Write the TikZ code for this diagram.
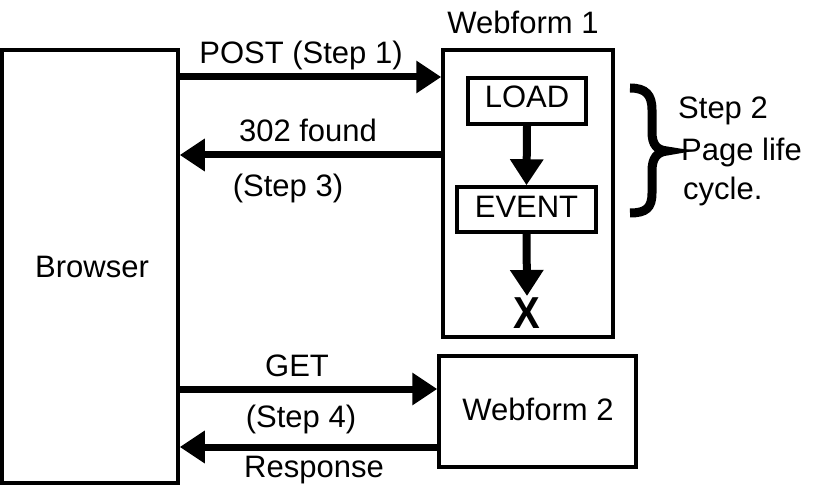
\documentclass[tikz,border=0pt]{standalone}
\usepackage{fontspec}
\usepackage{graphicx}
\setmainfont{Liberation Sans}
\usetikzlibrary{arrows.meta}
\begin{document}
\begin{tikzpicture}[x=1pt,y=-1pt,
  box/.style={draw=black,line width=3.5pt,rectangle,inner sep=0pt},
  lbl/.style={inner sep=0pt,anchor=base,font=\fontsize{31}{36}\selectfont},
  arr/.style={line width=7pt,-{Triangle[length=25pt,width=31pt]}},
  varr/.style={line width=8pt,-{Triangle[length=26pt,width=32pt]}}]
\useasboundingbox[fill=white] (0,0) rectangle (816,494);
% boxes
\node[box,minimum width=176pt,minimum height=433pt] (browser) at (90,266.5) {};
\node[box,minimum width=170pt,minimum height=287pt] (wf1) at (528,193.5) {};
\node[box,minimum width=118pt,minimum height=46pt] (load) at (527,101) {};
\node[box,minimum width=139pt,minimum height=45pt] (event) at (526.5,209.5) {};
\node[box,minimum width=197pt,minimum height=111pt] (wf2) at (537.5,411.5) {};
% texts
\node[lbl] (tbrowser) at (92,277) {Browser};
\node[lbl] (twf1) at (523,34) {Webform 1};
\node[lbl] (tload) at (527,108) {LOAD};
\node[lbl] (tevent) at (526.5,218) {EVENT};
\node[lbl] (twf2) at (538,420) {Webform 2};
\node[inner sep=0pt,anchor=base,font=\fontsize{40}{44}\selectfont\bfseries] (xend) at (527,328) {\scalebox{1}[1.12]{X}};
\node[lbl] (tpost) at (301,64) {POST (Step 1)};
\node[lbl] (t302) at (308,142) {302 found};
\node[lbl] (tstep3) at (288,197) {(Step 3)};
\node[lbl] (tget) at (297,376) {GET};
\node[lbl] (tstep4) at (301,427) {(Step 4)};
\node[lbl] (tresp) at (314,477) {Response};
\node[lbl,anchor=base west] (ts2a) at (678,119) {Step 2};
\node[lbl,anchor=base west] (ts2b) at (681,161) {Page life};
\node[lbl,anchor=base west] (ts2c) at (683,200) {cycle.};
% connectors
\draw[arr] (browser.east |- 0,77) -- (wf1.west |- 0,77);
\draw[arr] (wf1.west |- 0,155) -- (browser.east |- 0,155);
\draw[arr] (browser.east |- 0,389) -- (wf2.west |- 0,389);
\draw[arr] (wf2.west |- 0,447) -- (browser.east |- 0,447);
\draw[varr] (load.south) -- (event.north);
\draw[varr] (event.south) -- (527,296);
% brace
\draw[line width=9pt] (630,88) .. controls (646,88) and (652,95) .. (652,110)
  -- (652,132) .. controls (652,145) and (657,150) .. (667,151)
  .. controls (657,152) and (652,158) .. (652,171)
  -- (652,193) .. controls (652,208) and (646,213) .. (630,213);
\end{tikzpicture}
\end{document}
